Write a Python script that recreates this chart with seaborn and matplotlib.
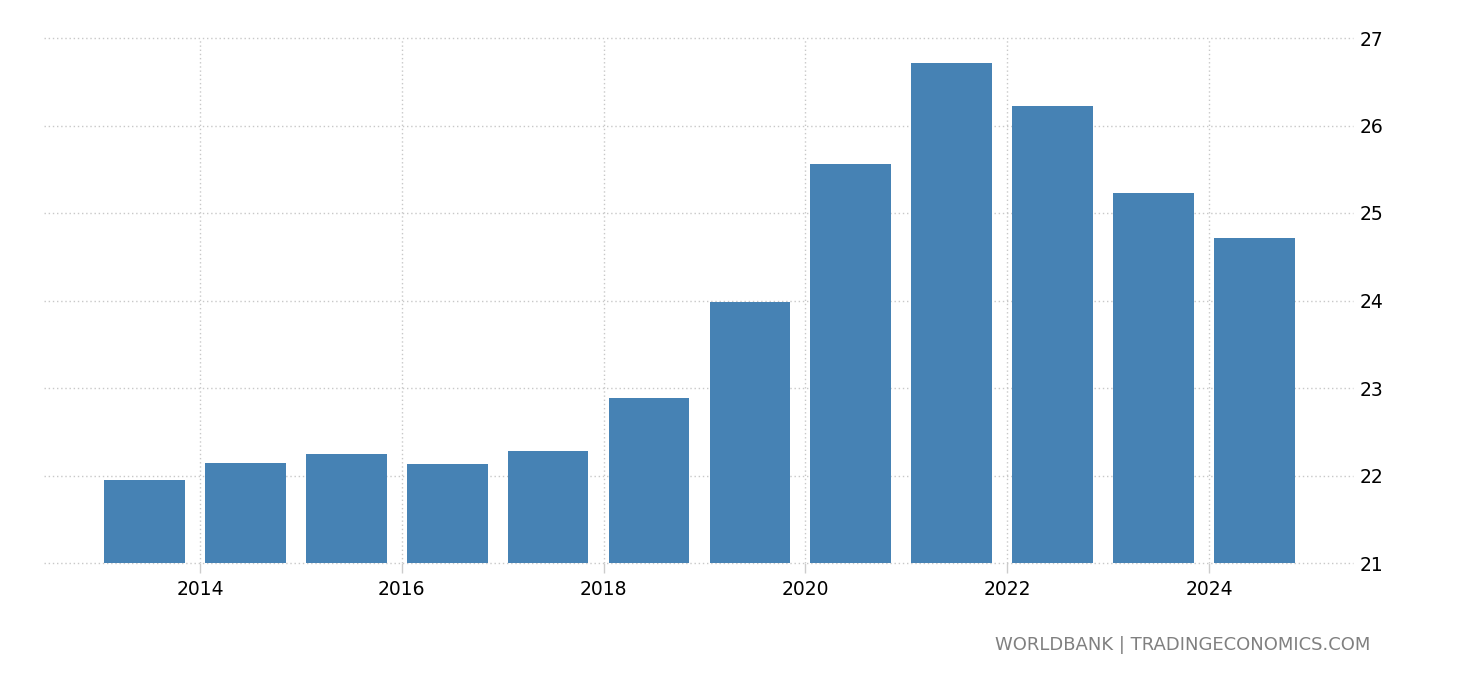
import matplotlib
matplotlib.use("Agg")
import matplotlib.pyplot as plt
import seaborn as sns
import pandas as pd
import numpy as np

years = [2013, 2014, 2015, 2016, 2017, 2018, 2019, 2020, 2021, 2022, 2023, 2024]
values = [21.95, 22.14, 22.25, 22.13, 22.28, 22.89, 23.98, 25.56, 26.71, 26.22, 25.23, 24.71]
xtick_years = [2014, 2016, 2018, 2020, 2022, 2024]
ytick_values = [21, 22, 23, 24, 25, 26, 27]
source_text = "WORLDBANK | TRADINGECONOMICS.COM"

sns.set_theme(style="white")
plt.rcParams['font.family'] = ['DejaVu Sans']

df = pd.DataFrame({"pos": np.array(years) + 0.45, "value": values})

fig = plt.figure(figsize=(14.6, 6.8), dpi=100)
ax = fig.add_axes([44 / 1460, 1 - 563 / 680, (1353 - 44) / 1460, (563 - 38) / 680])

sns.barplot(data=df, x="pos", y="value", native_scale=True, width=0.8,
            color="#4682B4", saturation=1, ax=ax, zorder=3, linewidth=0)

ax.set_xlim(2012.454, 2025.427)
ax.set_ylim(21, 27)
ax.set_xticks(xtick_years)
ax.set_xticklabels([str(y) for y in xtick_years], fontsize=13.5, color="black")
ax.set_yticks(ytick_values)
ax.set_yticklabels([str(v) for v in ytick_values], fontsize=13.5, color="black")
ax.yaxis.tick_right()
ax.tick_params(axis="y", length=0, pad=5)
ax.tick_params(axis="x", length=7, width=1, color="#cccccc", pad=5, bottom=True)
ax.grid(True, axis="both", linestyle=(0, (1, 2)), color="#c8c8c8", linewidth=1, zorder=0)
ax.set_axisbelow(True)
for gl in ax.get_ygridlines():
    gl.set_clip_on(False)
for s in ax.spines.values():
    s.set_visible(False)
ax.set_xlabel("")
ax.set_ylabel("")

fig.text(1370 / 1460, 1 - 645 / 680, source_text, ha="right", va="center",
         fontsize=13, color="#808080")

fig.savefig("out.png", dpi=100)
